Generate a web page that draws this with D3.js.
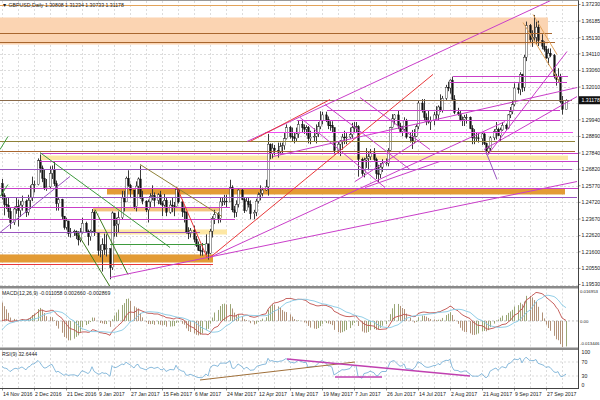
<!DOCTYPE html>
<html><head><meta charset="utf-8">
<script src="https://cdn.jsdelivr.net/npm/d3@7"></script>
<style>
body{margin:0;background:#fff}
svg{display:block}
text{font-family:"Liberation Sans",Arial,sans-serif}
</style>
</head><body>
<svg id="c" width="600" height="400"></svg>
<script>
// ---------------- DATA ----------------
const symbolTitle = "GBPUSD,Daily  1.30808 1.31234 1.30733 1.31178";
const macdTitle = "MACD(12,26,9) -0.011058 0.002660 -0.002869";
const rsiTitle = "RSI(9) 32.6444";
const startDate = "2016-11-14"; // first weekday bar
const lastPrice = 1.31178;

// closes before the first visible bar (indicator warm-up)
const warmupCloses = [1.2855,1.2720,1.2730,1.2735,1.2430,1.2330,1.2190,1.2250,1.2250,1.2190,
 1.2180,1.2300,1.2275,1.2235,1.2230,1.2215,1.2170,1.2230,1.2200,1.2190,
 1.2240,1.2210,1.2300,1.2490,1.2480,1.2410,1.2380,1.2460,1.2405,1.2590];

const closes = [
 1.2515,1.2460,1.2455,1.2415,1.2345, 1.2430,1.2445,1.2420,1.2455,1.2480,
 1.2410,1.2485,1.2505,1.2585,1.2585, 1.2735,1.2690,1.2625,1.2565,1.2570,
 1.2655,1.2680,1.2590,1.2465,1.2490, 1.2385,1.2315,1.2355,1.2275,1.2285,
 1.2290,1.2265,1.2235,1.2285,1.2340, 1.2290,1.2255,1.2290,1.2410,1.2280,
 1.2170,1.2170,1.2205,1.2175,1.2180, 1.2060,1.2405,1.2325,1.2335,1.2375,
 1.2500,1.2475,1.2625,1.2580,1.2550, 1.2445,1.2575,1.2620,1.2500,1.2480,
 1.2425,1.2475,1.2510,1.2515,1.2485, 1.2520,1.2465,1.2455,1.2485,1.2410,
 1.2455,1.2450,1.2445,1.2555,1.2475, 1.2415,1.2410,1.2285,1.2275,1.2295,
 1.2240,1.2200,1.2170,1.2165,1.2160, 1.2210,1.2150,1.2290,1.2370,1.2395,
 1.2370,1.2475,1.2475,1.2480,1.2475, 1.2565,1.2425,1.2410,1.2460,1.2550,
 1.2490,1.2420,1.2480,1.2460,1.2400, 1.2410,1.2480,1.2520,1.2530,1.2550,
 1.2570,1.2840,1.2780,1.2815,1.2800, 1.2790,1.2825,1.2830,1.2875,1.2945,
 1.2890,1.2885,1.2875,1.2905,1.2965, 1.2945,1.2935,1.2945,1.2875,1.2885,
 1.2890,1.2905,1.2950,1.2990,1.3025, 1.2995,1.2960,1.2960,1.2945,1.2800,
 1.2840,1.2860,1.2885,1.2880,1.2885, 1.2900,1.2945,1.2945,1.2950,1.2745,
 1.2655,1.2740,1.2750,1.2760,1.2785, 1.2745,1.2655,1.2650,1.2695,1.2720,
 1.2720,1.2800,1.2945,1.3000,1.3025, 1.2955,1.2920,1.2935,1.2990,1.2885,
 1.2880,1.2860,1.2890,1.2950,1.3100, 1.3055,1.3010,1.2985,1.2980,1.2990,
 1.3025,1.3025,1.3075,1.3055,1.3130, 1.3200,1.3195,1.3245,1.3125,1.3040,
 1.3030,1.2995,1.2995,1.3010,1.3010, 1.2940,1.2880,1.2880,1.2880,1.2875,
 1.2905,1.2845,1.2795,1.2815,1.2880, 1.2920,1.2935,1.2895,1.2930,1.2960,
 1.2940,1.3025,1.3045,1.3090,1.3195, 1.3185,1.3280,1.3200,1.3390,1.3590,
 1.3500,1.3510,1.3515,1.3580,1.3495, 1.3460,1.3440,1.3385,1.3415,1.3400,
 1.3270,1.3250,1.3270,1.3110,1.3060, 1.31178];

const highs = [
 1.2620,1.2530,1.2505,1.2505,1.2440, 1.2445,1.2505,1.2490,1.2480,1.2515,
 1.2490,1.2520,1.2580,1.2635,1.2610, 1.2750,1.2775,1.2705,1.2680,1.2620,
 1.2700,1.2705,1.2730,1.2610,1.2505, 1.2495,1.2385,1.2375,1.2355,1.2310,
 1.2300,1.2295,1.2290,1.2310,1.2375, 1.2350,1.2300,1.2300,1.2430,1.2420,
 1.2225,1.2205,1.2245,1.2275,1.2270, 1.2090,1.2415,1.2405,1.2375,1.2415,
 1.2545,1.2545,1.2635,1.2675,1.2590, 1.2550,1.2605,1.2630,1.2705,1.2545,
 1.2485,1.2490,1.2530,1.2580,1.2535, 1.2530,1.2545,1.2480,1.2525,1.2500,
 1.2485,1.2500,1.2475,1.2570,1.2555, 1.2490,1.2445,1.2415,1.2315,1.2310,
 1.2325,1.2260,1.2225,1.2200,1.2215, 1.2270,1.2210,1.2305,1.2385,1.2425,
 1.2410,1.2505,1.2500,1.2520,1.2520, 1.2615,1.2580,1.2450,1.2485,1.2555,
 1.2560,1.2500,1.2500,1.2500,1.2485, 1.2425,1.2495,1.2535,1.2580,1.2565,
 1.2615,1.2905,1.2845,1.2845,1.2835, 1.2850,1.2850,1.2850,1.2915,1.2965,
 1.2955,1.2945,1.2915,1.2945,1.2990, 1.2990,1.2965,1.2960,1.2955,1.2925,
 1.2940,1.2965,1.2980,1.3048,1.3045, 1.3045,1.3015,1.2985,1.2985,1.2940,
 1.2860,1.2865,1.2905,1.2925,1.2910, 1.2945,1.2975,1.2980,1.2980,1.2960,
 1.2755,1.2755,1.2815,1.2790,1.2810, 1.2815,1.2755,1.2710,1.2720,1.2745,
 1.2750,1.2815,1.2950,1.3030,1.3030, 1.3050,1.2975,1.2955,1.3010,1.3000,
 1.2915,1.2930,1.2935,1.2965,1.3115, 1.3125,1.3125,1.3035,1.3050,1.3015,
 1.3045,1.3080,1.3085,1.3155,1.3145, 1.3215,1.3235,1.3250,1.3267,1.3150,
 1.3070,1.3050,1.3015,1.3025,1.3030, 1.3015,1.2960,1.2935,1.2915,1.2910,
 1.2915,1.2910,1.2850,1.2830,1.2890, 1.2935,1.2980,1.2945,1.2945,1.2980,
 1.2970,1.3030,1.3075,1.3115,1.3225, 1.3225,1.3295,1.3285,1.3405,1.3615,
 1.3600,1.3560,1.3657,1.3615,1.3620, 1.3535,1.3490,1.3460,1.3445,1.3445,
 1.3410,1.3285,1.3320,1.3285,1.3145, 1.31234];

const lows = [
 1.2490,1.2390,1.2430,1.2375,1.2305, 1.2330,1.2400,1.2320,1.2380,1.2420,
 1.2380,1.2390,1.2430,1.2480,1.2535, 1.2580,1.2660,1.2600,1.2550,1.2545,
 1.2560,1.2620,1.2575,1.2420,1.2420, 1.2365,1.2300,1.2300,1.2255,1.2250,
 1.2260,1.2240,1.2200,1.2220,1.2275, 1.2280,1.2200,1.2230,1.2280,1.2260,
 1.2135,1.2125,1.2035,1.2140,1.2130, 1.1986,1.2045,1.2255,1.2255,1.2280,
 1.2365,1.2415,1.2475,1.2570,1.2500, 1.2430,1.2415,1.2525,1.2495,1.2460,
 1.2410,1.2345,1.2440,1.2485,1.2445, 1.2460,1.2455,1.2385,1.2445,1.2385,
 1.2400,1.2410,1.2385,1.2445,1.2465, 1.2380,1.2345,1.2275,1.2240,1.2250,
 1.2220,1.2190,1.2165,1.2135,1.2135, 1.2140,1.2110,1.2145,1.2250,1.2335,
 1.2340,1.2345,1.2450,1.2455,1.2440, 1.2475,1.2410,1.2375,1.2380,1.2440,
 1.2485,1.2405,1.2415,1.2440,1.2365, 1.2365,1.2385,1.2465,1.2485,1.2510,
 1.2545,1.2515,1.2745,1.2750,1.2770, 1.2755,1.2775,1.2780,1.2805,1.2870,
 1.2875,1.2855,1.2845,1.2855,1.2880, 1.2915,1.2905,1.2895,1.2845,1.2840,
 1.2860,1.2845,1.2885,1.2935,1.2965, 1.2980,1.2935,1.2925,1.2915,1.2775,
 1.2780,1.2765,1.2805,1.2840,1.2840, 1.2875,1.2880,1.2915,1.2915,1.2635,
 1.2640,1.2630,1.2690,1.2675,1.2740, 1.2735,1.2620,1.2600,1.2625,1.2665,
 1.2705,1.2700,1.2795,1.2940,1.2965, 1.2935,1.2910,1.2890,1.2920,1.2875,
 1.2850,1.2810,1.2845,1.2885,1.2935, 1.3040,1.2985,1.2960,1.2970,1.2930,
 1.2960,1.3000,1.2990,1.3045,1.3040, 1.3120,1.3175,1.3160,1.3115,1.3030,
 1.3020,1.2985,1.2955,1.2955,1.2970, 1.2935,1.2840,1.2840,1.2855,1.2850,
 1.2835,1.2835,1.2775,1.2775,1.2790, 1.2865,1.2870,1.2890,1.2860,1.2925,
 1.2930,1.2935,1.3005,1.3030,1.3080, 1.3160,1.3150,1.3170,1.3175,1.3365,
 1.3480,1.3455,1.3490,1.3470,1.3460, 1.3440,1.3425,1.3380,1.3340,1.3390,
 1.3255,1.3210,1.3235,1.3100,1.3027, 1.30733];

const priceTicks = [1.37230,1.36185,1.35130,1.34110,1.33060,1.32010,1.29940,1.28890,1.27840,
 1.26820,1.25770,1.24720,1.23670,1.22620,1.21600,1.20550,1.19530];
const macdTicks = [0.016953, 0.00, -0.013446];
const rsiTicks = [100, 70, 30, 0];
const dateTicks = ["14 Nov 2016","2 Dec 2016","21 Dec 2016","9 Jan 2017","27 Jan 2017","15 Feb 2017",
 "6 Mar 2017","24 Mar 2017","12 Apr 2017","1 May 2017","19 May 2017","7 Jun 2017","26 Jun 2017",
 "14 Jul 2017","2 Aug 2017","21 Aug 2017","9 Sep 2017","27 Sep 2017"];

// chart objects: time in bar slots, values in price
const hLines = [ // price, fromSlot, toSlot, kind
 [1.3723,-1,287.5,"orange"],[1.3546,-1,275,"brown"],[1.3483,-1,276.5,"brown"],
 [1.3268,225.5,283,"magenta"],[1.3230,224,282.5,"magenta"],[1.3120,-1,285,"bid"],
 [1.3059,162.5,279,"magenta"],[1.2995,147.5,279,"magenta"],[1.2914,131.5,285.5,"pink"],
 [1.2857,-1,286.5,"olive"],[1.2800,-1,286.5,"brown"],[1.2787,19,288,"magenta"],
 [1.2731,19,288,"magenta"],[1.2680,-1,285,"purple"],[1.2566,-1,288,"magenta"],
 [1.2509,-1,287.5,"purple"],[1.2446,-1,114,"magenta"],[1.2364,-1,116.5,"magenta"],
 [1.2282,-1,99,"purple"],[1.2206,54,101.5,"green"],[1.2080,-1,105.5,"red"]];
const zones = [ // priceTop, priceBottom, fromSlot, toSlot, kind
 [1.3641,1.3470,-1,273,"peach"],[1.2768,1.2740,19,283,"yellow"],
 [1.2560,1.2522,52.5,281.5,"amber"],[1.2440,1.2415,45.5,110,"tan"],
 [1.2301,1.2269,46.5,112.5,"yellow"],[1.2143,1.2092,-1,105.5,"amber"]];
const trendLines = [ // slot1, price1, slot2, price2, kind
 [19,1.2787,84,1.2187,"green"],[46.5,1.2427,63,1.2016,"dkgreen"],[37.5,1.2282,54,1.1940,"dkgreen"],
 [69,1.2712,110,1.2383,"olive"],[-1,1.2282,34,1.2636,"purple"],[87.5,1.2566,102.5,1.2124,"red"],
 [54,1.1997,287.5,1.2604,"magenta"],[104,1.2124,215.5,1.3281,"red"],[104,1.2124,251.5,1.2983,"magenta"],
 [122.5,1.2857,275.5,1.3755,"magenta"],[124,1.2857,164,1.3122,"red"],[135.5,1.2762,287.5,1.3198,"magenta"],
 [149,1.3009,191.5,1.2566,"magenta"],[161.5,1.3091,204,1.2680,"magenta"],[179,1.3135,214,1.2806,"magenta"],
 [176.5,1.2604,209,1.2870,"magenta"],[181.5,1.2566,219,1.2731,"magenta"],
 [265.5,1.3660,277.5,1.3407,"orange"],[260.5,1.3609,279,1.3230,"orange"],
 [243,1.2775,282.5,1.3426,"magenta"],[241,1.2806,287.5,1.3141,"magenta"],
 [-1,1.2806,3,1.2889,"green"],[-1,1.2509,3,1.2585,"green"],[241.5,1.2806,247.5,1.2617,"purple"]];
const rsiLines = [ // slot1, rsi1, slot2, rsi2, kind
 [99,18.6,176.5,70,"brownR"],[142.5,78.6,234,30,"magentaR"],[166.5,27.1,190,27.1,"magentaR"]];

// ---------------- STYLES ----------------
const lineStyle = {
 orange:{c:"#e2a35a",w:1}, brown:{c:"#a8662e",w:1}, magenta:{c:"#c93ec9",w:1}, pink:{c:"#f04cf0",w:1},
 olive:{c:"#8f8238",w:1}, purple:{c:"#9a55c0",w:1}, green:{c:"#3d9a3d",w:1}, dkgreen:{c:"#3f7d1e",w:1},
 red:{c:"#e8383a",w:1}, bid:{c:"#8a6a4a",w:1}, brownR:{c:"#a0703a",w:1}, magentaR:{c:"#c040b0",w:1.6}};
const zoneFill = {peach:"#fbd4b2", yellow:"#fde7a4", amber:"#e39b35", tan:"#f4c27e"};

// ---------------- LAYOUT ----------------
const svg = d3.select("#c");
const AX = 578.5;
const x = d3.scaleLinear().domain([0,16]).range([2,34]);
const y = d3.scaleLinear().domain([1.1953,1.3723]).range([284.5,4.5]);
const yM = d3.scaleLinear().domain([-0.013446,0.016953]).range([345.5,290]);
const yR = d3.scaleLinear().domain([0,100]).range([386.5,351.5]);
const panels = [{t:1,b:286},{t:288.5,b:347.5},{t:350,b:388.5}];

// bars with calendar slots (Mon-Sat = 6 slots per week)
const bars = [];
for (let d=0; bars.length<closes.length; d++){
  const dow = d%7; if (dow>4) continue;
  const i = bars.length;
  bars.push({slot:Math.floor(d/7)*6+dow, c:closes[i], h:highs[i], l:lows[i],
    o: i===0 ? warmupCloses[warmupCloses.length-1] : closes[i-1]});
}

// indicators
const all = warmupCloses.concat(closes);
function ema(arr,n){const k=2/(n+1);const out=[];arr.forEach((v,i)=>out.push(i===0?v:v*k+out[i-1]*(1-k)));return out;}
const e12=ema(all,12), e26=ema(all,26);
const main = all.map((v,i)=>e12[i]-e26[i]);
const sig = main.map((v,i)=> i<8?null:d3.mean(main.slice(i-8,i+1)));
function rsi(arr,n){const out=[];let ag=0,al=0;
  for(let i=1;i<arr.length;i++){const ch=arr[i]-arr[i-1];const g=Math.max(ch,0),l=Math.max(-ch,0);
    if(i<=n){ag+=g/n;al+=l/n;} else {ag=(ag*(n-1)+g)/n;al=(al*(n-1)+l)/n;}
    out[i]= al===0?100:100-100/(1+ag/al);}
  return out;}
const r9 = rsi(all,9);
const W0 = warmupCloses.length;
bars.forEach((b,i)=>{const j=i+W0; b.main=main[j]; b.sig=sig[j]; b.hist=2*(main[j]-sig[j]); b.rsi=r9[j]; b.prevHist = 2*(main[j-1]-sig[j-1]);});

// clip paths
const defs = svg.append("defs");
panels.forEach((p,i)=>defs.append("clipPath").attr("id","cp"+i).append("rect")
  .attr("x",0).attr("y",p.t).attr("width",AX).attr("height",p.b-p.t));

// ---------------- GRID ----------------
const grid = svg.append("g").attr("stroke","#c4c4c4").attr("stroke-width",0.6).attr("stroke-dasharray","2,2");
const vSlots = d3.range(0,290,8).filter(s=>x(s)<AX);
panels.forEach(p=>{
  grid.selectAll(null).data(vSlots).enter().append("line")
    .attr("x1",s=>x(s)+0.5).attr("x2",s=>x(s)+0.5).attr("y1",p.t).attr("y2",p.b);
});
grid.selectAll(null).data(priceTicks).enter().append("line")
  .attr("x1",0).attr("x2",AX).attr("y1",d=>Math.round(y(d))+0.5).attr("y2",d=>Math.round(y(d))+0.5);
grid.append("line").attr("x1",0).attr("x2",AX).attr("y1",Math.round(y(1.30975))+0.5).attr("y2",Math.round(y(1.30975))+0.5);
grid.append("line").attr("x1",0).attr("x2",AX).attr("y1",yM(0)).attr("y2",yM(0)).attr("stroke","#999");
[70,30].forEach(v=>grid.append("line").attr("x1",0).attr("x2",AX).attr("y1",yR(v)).attr("y2",yR(v)));

// ---------------- MAIN PANEL ----------------
const gm = svg.append("g").attr("clip-path","url(#cp0)");
gm.selectAll(null).data(zones).enter().append("rect")
  .attr("x",d=>x(d[2])).attr("width",d=>x(d[3])-x(d[2]))
  .attr("y",d=>y(d[0])).attr("height",d=>y(d[1])-y(d[0]))
  .attr("fill",d=>zoneFill[d[4]]);

// candles
const cg = gm.append("g");
cg.selectAll(null).data(bars).enter().append("line")
  .attr("x1",b=>x(b.slot)+0.5).attr("x2",b=>x(b.slot)+0.5)
  .attr("y1",b=>y(Math.max(b.h,b.o,b.c))).attr("y2",b=>y(Math.min(b.l,b.o,b.c)))
  .attr("stroke","#3a3a3a").attr("stroke-width",1);
cg.selectAll(null).data(bars).enter().append("rect")
  .attr("x",b=>x(b.slot)-0.3).attr("width",1.6)
  .attr("y",b=>y(Math.max(b.o,b.c))).attr("height",b=>Math.max(0.6,Math.abs(y(b.o)-y(b.c))))
  .attr("fill",b=>b.c>=b.o?"#ffffff":"#111").attr("stroke","#111").attr("stroke-width",0.4);

// horizontal objects
gm.selectAll(null).data(hLines).enter().append("line")
  .attr("x1",d=>x(d[1])).attr("x2",d=>x(d[2]))
  .attr("y1",d=>Math.round(y(d[0]))+0.5).attr("y2",d=>Math.round(y(d[0]))+0.5)
  .attr("stroke",d=>lineStyle[d[3]].c).attr("stroke-width",d=>lineStyle[d[3]].w);
// trend lines
gm.selectAll(null).data(trendLines).enter().append("line")
  .attr("x1",d=>x(d[0])).attr("y1",d=>y(d[1])).attr("x2",d=>x(d[2])).attr("y2",d=>y(d[3]))
  .attr("stroke",d=>lineStyle[d[4]].c).attr("stroke-width",d=>lineStyle[d[4]].w);

// ---------------- MACD ----------------
const gmc = svg.append("g").attr("clip-path","url(#cp1)");
gmc.selectAll(null).data(bars.filter(b=>b.sig!==null)).enter().append("line")
  .attr("x1",b=>x(b.slot)+0.5).attr("x2",b=>x(b.slot)+0.5)
  .attr("y1",yM(0)).attr("y2",b=>yM(b.hist))
  .attr("stroke",b=>b.hist>=b.prevHist?"#8e9c66":"#a8866a").attr("stroke-width",0.9);
gmc.append("path").datum(bars).attr("fill","none").attr("stroke","#c0504d").attr("stroke-width",0.9)
  .attr("d",d3.line().x(b=>x(b.slot)).y(b=>yM(b.main)));
gmc.append("path").datum(bars).attr("fill","none").attr("stroke","#86c8e4").attr("stroke-width",0.9)
  .attr("d",d3.line().x(b=>x(b.slot)).y(b=>yM(b.sig)));

// ---------------- RSI ----------------
const gr = svg.append("g").attr("clip-path","url(#cp2)");
gr.append("path").datum(bars).attr("fill","none").attr("stroke","#7db3d8").attr("stroke-width",0.9)
  .attr("d",d3.line().x(b=>x(b.slot)).y(b=>yR(b.rsi)));
gr.selectAll(null).data(rsiLines).enter().append("line")
  .attr("x1",d=>x(d[0])).attr("y1",d=>yR(d[1])).attr("x2",d=>x(d[2])).attr("y2",d=>yR(d[3]))
  .attr("stroke",d=>lineStyle[d[4]].c).attr("stroke-width",d=>lineStyle[d[4]].w);

// ---------------- FRAME ----------------
svg.append("rect").attr("x",0).attr("y",286).attr("width",AX).attr("height",2.5).attr("fill","#8a8a8a");
svg.append("rect").attr("x",0).attr("y",347.5).attr("width",AX).attr("height",2.5).attr("fill","#8a8a8a");
svg.append("line").attr("x1",AX).attr("x2",AX).attr("y1",0).attr("y2",389).attr("stroke","#444").attr("stroke-width",1);
svg.append("line").attr("x1",0).attr("x2",AX).attr("y1",388.5).attr("y2",388.5).attr("stroke","#444").attr("stroke-width",1);
svg.append("line").attr("x1",0).attr("x2",AX).attr("y1",0.5).attr("y2",0.5).attr("stroke","#999").attr("stroke-width",1);

// ---------------- AXES TEXT ----------------
const fs = 5.2;
const ta = svg.append("g").attr("font-size",fs).attr("fill","#222");
ta.selectAll(null).data(priceTicks).enter().append("text")
  .attr("x",AX+3).attr("y",d=>y(d)+1.8).text(d=>d.toFixed(5));
ta.selectAll(null).data(priceTicks).enter().append("line")
  .attr("x1",AX).attr("x2",AX+2).attr("y1",d=>y(d)).attr("y2",d=>y(d)).attr("stroke","#444").attr("stroke-width",0.6);
// last price box
svg.append("rect").attr("x",AX+0.5).attr("y",y(lastPrice)-4).attr("width",600-AX).attr("height",8).attr("fill","#111");
svg.append("text").attr("x",AX+3).attr("y",y(lastPrice)+1.8).attr("font-size",fs).attr("fill","#fff").text(lastPrice.toFixed(5));
// macd axis
ta.selectAll(null).data(macdTicks).enter().append("text")
  .attr("x",AX+1.5).attr("font-size",4.3)
  .attr("y",(d,i)=> i===0? yM(d)+2.5 : i===2? yM(d)-0.5 : yM(d)+1.6)
  .text(d=> d===0?"0.00":d.toFixed(6));
ta.selectAll(null).data(rsiTicks).enter().append("text")
  .attr("x",AX+3).attr("y",d=>yR(d)+ (d===100?2.5: d===0? 0.5:1.8)).text(d=>d);
// date axis
ta.selectAll(null).data(dateTicks).enter().append("text")
  .attr("x",(d,i)=>x(i*16)+1).attr("y",396).text(d=>d);
ta.selectAll(null).data(dateTicks).enter().append("line")
  .attr("x1",(d,i)=>x(i*16)+0.5).attr("x2",(d,i)=>x(i*16)+0.5).attr("y1",388.5).attr("y2",390.5)
  .attr("stroke","#444").attr("stroke-width",0.6);
// titles
ta.append("text").attr("x",2).attr("y",7).text("\u25BC "+symbolTitle);
ta.append("text").attr("x",2).attr("y",294.5).text(macdTitle);
ta.append("text").attr("x",2).attr("y",355.5).text(rsiTitle);
</script>
</body></html>
